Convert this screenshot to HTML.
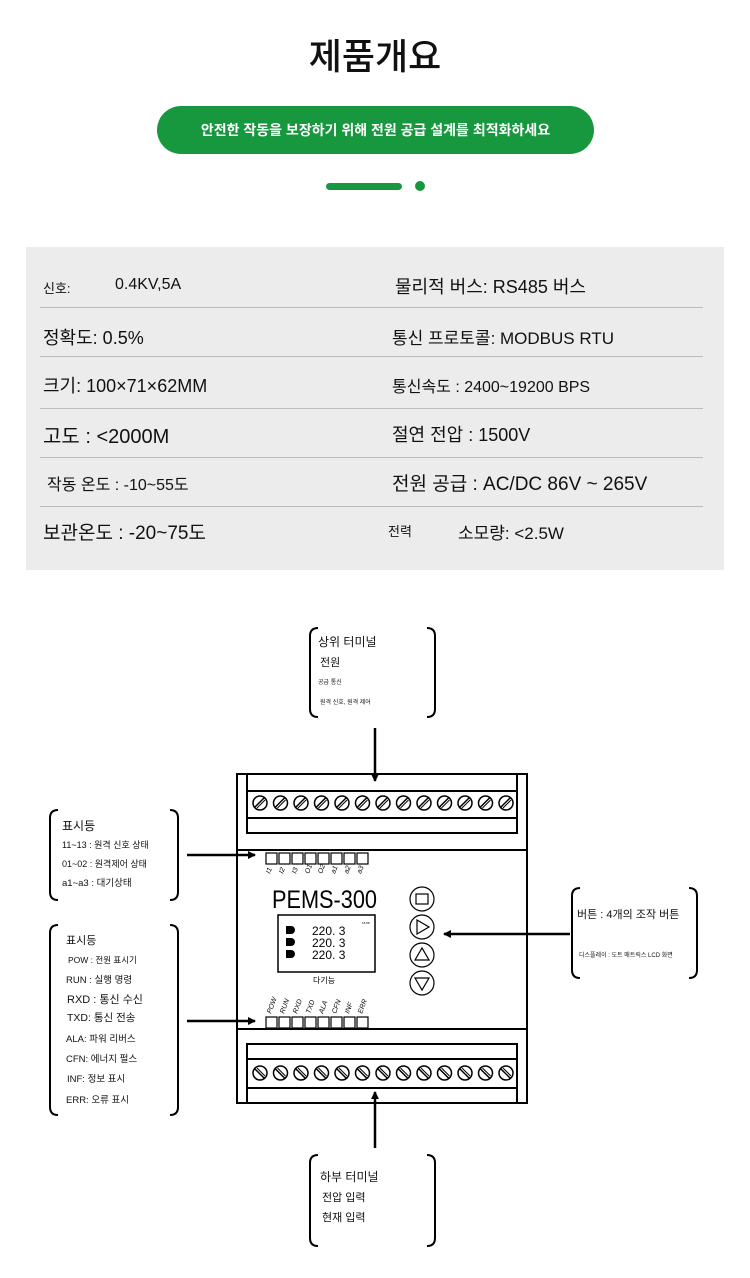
<!DOCTYPE html><html><head><meta charset="utf-8"><style>
body{margin:0;width:750px;height:1278px;background:#fff;position:relative;font-family:"Liberation Sans","Noto Sans CJK KR",sans-serif;color:#111;overflow:hidden}
.a{position:absolute;white-space:nowrap}
</style></head><body>
<div class="a" style="left:0;width:750px;top:30px;text-align:center;font-size:36px;font-weight:500;font-family:'Noto Sans CJK KR',sans-serif;line-height:48px">제품개요</div>
<div class="a" style="left:157px;top:106px;width:437px;height:48px;border-radius:24px;background:#17983f;color:#fff;font-size:14px;font-weight:bold;text-align:center;line-height:48px">안전한 작동을 보장하기 위해 전원 공급 설계를 최적화하세요</div>
<div class="a" style="left:326px;top:183px;width:76px;height:7px;border-radius:4px;background:#17983f"></div>
<div class="a" style="left:415px;top:181px;width:10px;height:10px;border-radius:5px;background:#17983f"></div>
<div class="a" style="left:26px;top:247px;width:698px;height:323px;background:#ececec"></div>
<div class="a" style="left:40px;top:307px;width:663px;border-top:1px solid #bbb"></div>
<div class="a" style="left:40px;top:356px;width:663px;border-top:1px solid #bbb"></div>
<div class="a" style="left:40px;top:408px;width:663px;border-top:1px solid #bbb"></div>
<div class="a" style="left:40px;top:457px;width:663px;border-top:1px solid #bbb"></div>
<div class="a" style="left:40px;top:506px;width:663px;border-top:1px solid #bbb"></div>
<div class="a" style="left:43px;top:278px;font-size:13px">신호:</div>
<div class="a" style="left:115px;top:276px;font-size:16px">0.4KV,5A</div>
<div class="a" style="left:395px;top:273px;font-size:18px">물리적 버스: RS485 버스</div>
<div class="a" style="left:43px;top:324px;font-size:18px">정확도: 0.5%</div>
<div class="a" style="left:392px;top:324px;font-size:17px">통신 프로토콜: MODBUS RTU</div>
<div class="a" style="left:43px;top:372px;font-size:18px">크기: 100×71×62MM</div>
<div class="a" style="left:392px;top:373px;font-size:16px">통신속도 : 2400~19200 BPS</div>
<div class="a" style="left:43px;top:420px;font-size:20px">고도 : &lt;2000M</div>
<div class="a" style="left:392px;top:421px;font-size:18px">절연 전압 : 1500V</div>
<div class="a" style="left:47px;top:471px;font-size:16px">작동 온도 : -10~55도</div>
<div class="a" style="left:392px;top:469px;font-size:19px">전원 공급 : AC/DC 86V ~ 265V</div>
<div class="a" style="left:43px;top:518px;font-size:19px">보관온도 : -20~75도</div>
<div class="a" style="left:388px;top:521px;font-size:13px">전력</div>
<div class="a" style="left:458px;top:519px;font-size:17px">소모량: &lt;2.5W</div>

<svg class="a" style="left:0;top:0" width="750" height="1278" viewBox="0 0 750 1278">
<defs><marker id="ar" markerWidth="8" markerHeight="8" refX="7" refY="4" orient="auto" markerUnits="userSpaceOnUse"><path d="M0,0L8,4L0,8z" fill="#000"/></marker>
<g id="sc"><circle r="7" fill="none" stroke="#000" stroke-width="1.5"/><line x1="-5" y1="4" x2="4" y2="-5" stroke="#000" stroke-width="1.5"/><line x1="-3" y1="5" x2="5" y2="-3" stroke="#000" stroke-width="1"/></g>
<g id="sc2"><circle r="7" fill="none" stroke="#000" stroke-width="1.5"/><line x1="-5" y1="-4" x2="4" y2="5" stroke="#000" stroke-width="1.5"/><line x1="-3" y1="-5" x2="5" y2="3" stroke="#000" stroke-width="1"/></g>
</defs>
<g fill="none" stroke="#000" stroke-width="2">
<rect x="237" y="774" width="290" height="329"/>
<rect x="247" y="774" width="270" height="59"/>
<line x1="247" y1="791" x2="517" y2="791"/><line x1="247" y1="818" x2="517" y2="818"/>
<line x1="237" y1="850" x2="527" y2="850"/>
<line x1="237" y1="1029" x2="527" y2="1029"/>
<rect x="247" y="1044" width="270" height="59"/>
<line x1="247" y1="1059" x2="517" y2="1059"/><line x1="247" y1="1088" x2="517" y2="1088"/>
<rect x="278" y="915" width="97" height="57" stroke-width="1.5"/>
</g>
<g>
<use href="#sc" x="260" y="803"/><use href="#sc" x="280.5" y="803"/><use href="#sc" x="301" y="803"/><use href="#sc" x="321.5" y="803"/><use href="#sc" x="342" y="803"/><use href="#sc" x="362.5" y="803"/><use href="#sc" x="383" y="803"/><use href="#sc" x="403.5" y="803"/><use href="#sc" x="424" y="803"/><use href="#sc" x="444.5" y="803"/><use href="#sc" x="465" y="803"/><use href="#sc" x="485.5" y="803"/><use href="#sc" x="506" y="803"/>
<use href="#sc2" x="260" y="1073"/><use href="#sc2" x="280.5" y="1073"/><use href="#sc2" x="301" y="1073"/><use href="#sc2" x="321.5" y="1073"/><use href="#sc2" x="342" y="1073"/><use href="#sc2" x="362.5" y="1073"/><use href="#sc2" x="383" y="1073"/><use href="#sc2" x="403.5" y="1073"/><use href="#sc2" x="424" y="1073"/><use href="#sc2" x="444.5" y="1073"/><use href="#sc2" x="465" y="1073"/><use href="#sc2" x="485.5" y="1073"/><use href="#sc2" x="506" y="1073"/>
</g>
<g fill="none" stroke="#000" stroke-width="1.2">
<rect x="266" y="853" width="11" height="11"/><rect x="279" y="853" width="11" height="11"/><rect x="292" y="853" width="11" height="11"/><rect x="305" y="853" width="11" height="11"/><rect x="318" y="853" width="11" height="11"/><rect x="331" y="853" width="11" height="11"/><rect x="344" y="853" width="11" height="11"/><rect x="357" y="853" width="11" height="11"/>
<rect x="266" y="1017" width="11" height="11"/><rect x="279" y="1017" width="11" height="11"/><rect x="292" y="1017" width="11" height="11"/><rect x="305" y="1017" width="11" height="11"/><rect x="318" y="1017" width="11" height="11"/><rect x="331" y="1017" width="11" height="11"/><rect x="344" y="1017" width="11" height="11"/><rect x="357" y="1017" width="11" height="11"/>
<circle cx="422" cy="899" r="12"/><circle cx="422" cy="927" r="12"/><circle cx="422" cy="955" r="12"/><circle cx="422" cy="983" r="12"/>
<rect x="416" y="894" width="12" height="10"/>
<path d="M417,920L429,927L417,934Z"/><path d="M415,960L422,948L429,960Z"/><path d="M415,978L422,990L429,978Z"/>
</g>
<g font-size="7" font-style="italic" fill="#000">
<text transform="translate(270,874) rotate(-70)">I1</text><text transform="translate(283,874) rotate(-70)">I2</text><text transform="translate(296,874) rotate(-70)">I3</text><text transform="translate(309,874) rotate(-70)">O1</text><text transform="translate(322,874) rotate(-70)">O2</text><text transform="translate(335,874) rotate(-70)">a1</text><text transform="translate(348,874) rotate(-70)">a2</text><text transform="translate(361,874) rotate(-70)">a3</text>
<text transform="translate(271,1014) rotate(-70)">POW</text><text transform="translate(284,1014) rotate(-70)">RUN</text><text transform="translate(297,1014) rotate(-70)">RXD</text><text transform="translate(310,1014) rotate(-70)">TXD</text><text transform="translate(323,1014) rotate(-70)">ALA</text><text transform="translate(336,1014) rotate(-70)">CFN</text><text transform="translate(349,1014) rotate(-70)">INF</text><text transform="translate(362,1014) rotate(-70)">ERR</text>
</g>
<text x="272" y="908" font-size="25" textLength="105" lengthAdjust="spacingAndGlyphs">PEMS-300</text>
<g font-size="12"><text x="312" y="935">220. 3</text><text x="312" y="947">220. 3</text><text x="312" y="959">220. 3</text></g>
<g fill="#000"><path d="M286,926h5a4,4 0 0 1 0,8h-5z"/><path d="M286,938h5a4,4 0 0 1 0,8h-5z"/><path d="M286,950h5a4,4 0 0 1 0,8h-5z"/></g>
<text x="362" y="924" font-size="3">18.88</text>
<text x="313" y="983" font-size="8">다기능</text>
<g stroke="#000" stroke-width="2.5" fill="none">
<line x1="375" y1="728" x2="375" y2="781" marker-end="url(#ar)"/>
<line x1="187" y1="855" x2="255" y2="855" marker-end="url(#ar)"/>
<line x1="187" y1="1021" x2="255" y2="1021" marker-end="url(#ar)"/>
<line x1="570" y1="934" x2="444" y2="934" marker-end="url(#ar)"/>
<line x1="375" y1="1148" x2="375" y2="1092" marker-end="url(#ar)"/>
</g>
<g stroke="#000" stroke-width="2" fill="none">
<path d="M318,628q-8,0 -8,8v73q0,8 8,8"/><path d="M427,628q8,0 8,8v73q0,8 -8,8"/>
<path d="M58,810q-8,0 -8,8v74q0,8 8,8"/><path d="M170,810q8,0 8,8v74q0,8 -8,8"/>
<path d="M58,925q-8,0 -8,8v174q0,8 8,8"/><path d="M170,925q8,0 8,8v174q0,8 -8,8"/>
<path d="M580,888q-8,0 -8,8v74q0,8 8,8"/><path d="M689,888q8,0 8,8v74q0,8 -8,8"/>
<path d="M318,1155q-8,0 -8,8v75q0,8 8,8"/><path d="M427,1155q8,0 8,8v75q0,8 -8,8"/>
</g>
<g fill="#111">
<text x="318" y="646" font-size="12">상위 터미널</text>
<text x="320" y="666" font-size="11">전원</text>
<text x="318" y="684" font-size="6">공급 통신</text>
<text x="320" y="704" font-size="6">원격 신호, 원격 제어</text>
<text x="62" y="830" font-size="12">표시등</text>
<text x="62" y="848" font-size="9">11~13 : 원격 신호 상태</text>
<text x="62" y="867" font-size="9">01~02 : 원격제어 상태</text>
<text x="62" y="886" font-size="9.5">a1~a3 : 대기상태</text>
<text x="66" y="944" font-size="11">표시등</text>
<text x="68" y="963" font-size="8.5">POW : 전원 표시기</text>
<text x="66" y="983" font-size="9.5">RUN : 실행 명령</text>
<text x="67" y="1003" font-size="11">RXD : 통신 수신</text>
<text x="67" y="1021" font-size="10.5">TXD: 통신 전송</text>
<text x="66" y="1042" font-size="9.5">ALA: 파워 리버스</text>
<text x="66" y="1062" font-size="9.5">CFN: 에너지 펄스</text>
<text x="67" y="1082" font-size="9.5">INF: 정보 표시</text>
<text x="66" y="1103" font-size="9.5">ERR: 오류 표시</text>
<text x="577" y="918" font-size="11">버튼 : 4개의 조작 버튼</text>
<text x="579" y="957" font-size="6">디스플레이 : 도트 매트릭스 LCD 화면</text>
<text x="320" y="1181" font-size="12">하부 터미널</text>
<text x="322" y="1201" font-size="11">전압 입력</text>
<text x="322" y="1221" font-size="11">현재 입력</text>
</g>
</svg>
</body></html>
